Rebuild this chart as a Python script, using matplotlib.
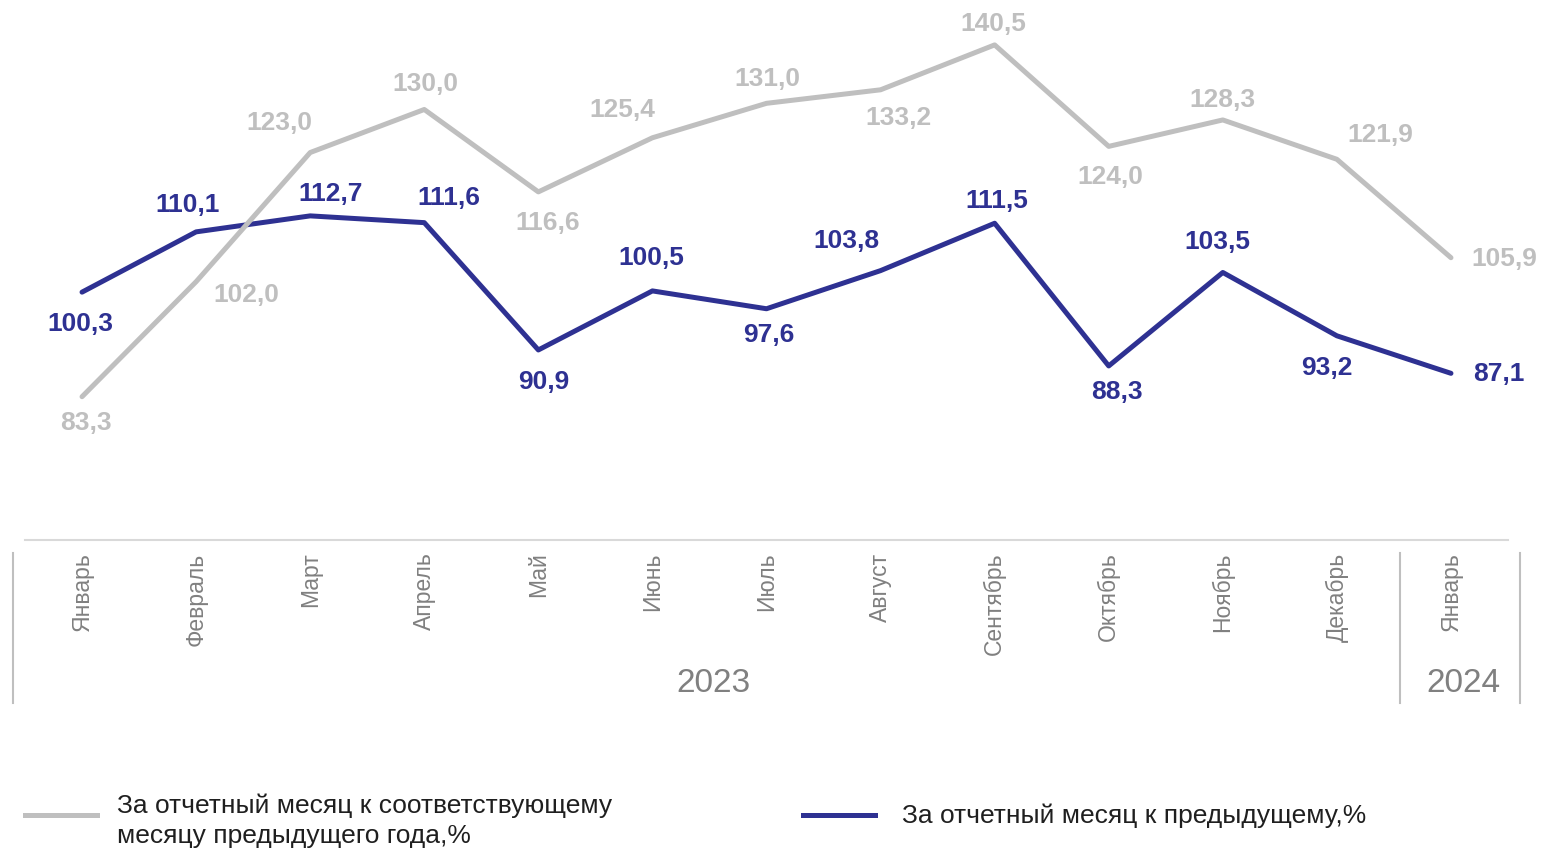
import numpy as np
import matplotlib
matplotlib.use('Agg')
import matplotlib.pyplot as plt
from matplotlib.lines import Line2D

plt.rcParams['font.family'] = ['Liberation Sans', 'DejaVu Sans']

# ------------------------------ Data ------------------------------ #
months = ['Январь', 'Февраль', 'Март', 'Апрель', 'Май', 'Июнь', 'Июль',
          'Август', 'Сентябрь', 'Октябрь', 'Ноябрь', 'Декабрь', 'Январь']
years = ['2023', '2024']
yoy = [83.3, 102.0, 123.0, 130.0, 116.6, 125.4, 131.0, 133.2, 140.5,
       124.0, 128.3, 121.9, 105.9]
mom = [100.3, 110.1, 112.7, 111.6, 90.9, 100.5, 97.6, 103.8, 111.5,
       88.3, 103.5, 93.2, 87.1]
yoy_name = 'За отчетный месяц к соответствующему\nмесяцу предыдущего года,%'
mom_name = 'За отчетный месяц к предыдущему,%'

# label offsets in pixels (dx, dy up)
yoy_off = [(4, -26), (50, -13), (-31, 30), (1, 25), (9, -31), (-30, 28),
           (1, 24), (18, -28), (-1, 21), (2, -31), (0, 20), (43, 24), (53, -1)]
mom_off = [(-2, -32), (-9, 27), (20, 22), (25, 25), (5, -32), (-1, 33),
           (2, -26), (-34, 30), (2, 22), (8, -26), (-5, 30), (-10, -32), (48, -1)]

GRAY = '#BFBFBF'
BLUE = '#2E3192'

fig = plt.figure(figsize=(15.42, 8.52), dpi=100)
W, H = 1542, 852
ax = fig.add_axes([25 / W, (H - 540) / H, (1508 - 25) / W, 540 / H])

x = np.arange(len(months))
ax.plot(x, mom, color=BLUE, lw=3.6, zorder=3, solid_capstyle='round')
ax.plot(x, yoy, color=GRAY, lw=3.6, zorder=4, solid_capstyle='round')

px = 0.72
for i in range(len(x)):
    dx, dy = yoy_off[i]
    ax.annotate('{:.1f}'.format(yoy[i]).replace('.', ','), (x[i], yoy[i]),
                xytext=(dx * px, dy * px), textcoords='offset points',
                ha='center', va='center', color=GRAY, fontsize=19,
                fontweight='bold', zorder=5)
    dx, dy = mom_off[i]
    ax.annotate('{:.1f}'.format(mom[i]).replace('.', ','), (x[i], mom[i]),
                xytext=(dx * px, dy * px), textcoords='offset points',
                ha='center', va='center', color=BLUE, fontsize=19,
                fontweight='bold', zorder=5)

ax.set_xlim(-0.5, len(months) - 0.5)
ax.set_ylim(60, 147.8)
ax.set_yticks([])
for s in ['top', 'left', 'right']:
    ax.spines[s].set_visible(False)
ax.spines['bottom'].set_color('#D9D9D9')
ax.spines['bottom'].set_linewidth(1.5)
ax.set_xticks(x)
ax.set_xticklabels(months, rotation=90, va='top', ha='center',
                   fontsize=16.5, color='#808080')
ax.tick_params(axis='x', length=0, pad=9)

# year group labels and separators
for xs in [13, 1400, 1520]:
    fig.add_artist(Line2D([xs / W, xs / W], [1 - 553 / H, 1 - 703 / H],
                          color=GRAY, lw=1.5))
year_x = [713, 1463]
for yr, cx in zip(years, year_x):
    fig.text(cx / W, 1 - 684 / H, yr, ha='center', va='center',
             fontsize=24, color='#808080')

# legend
fig.add_artist(Line2D([25 / W, 97 / W], [1 - 815 / H] * 2, color=GRAY, lw=3.6))
fig.text(117 / W, 1 - 821 / H, yoy_name, ha='left', va='center',
         fontsize=19, color='#1F1F1F', linespacing=1.32)
fig.add_artist(Line2D([803 / W, 875 / W], [1 - 815 / H] * 2, color=BLUE, lw=3.6))
fig.text(902 / W, 1 - 816 / H, mom_name, ha='left', va='center',
         fontsize=19, color='#1F1F1F')

fig.savefig('out.png', dpi=100)
